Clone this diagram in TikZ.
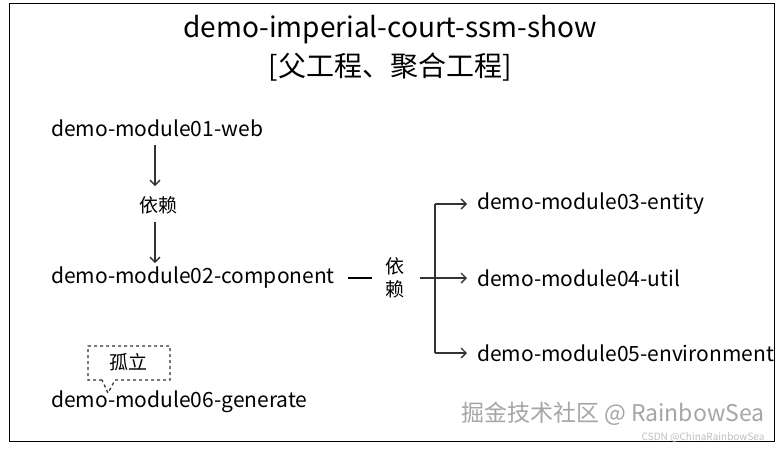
\documentclass[tikz,border=0pt]{standalone}
\usepackage{fontspec}
\setmainfont{Noto Sans CJK SC}
\usetikzlibrary{arrows.meta}
\begin{document}
\begin{tikzpicture}[x=1pt,y=-1pt,
  t/.style={font=\fontsize{21}{23}\selectfont, inner sep=1pt},
  ar/.style={-{Straight Barb[length=5pt,width=10pt]}, line width=1.3pt, black!80}]
\useasboundingbox (0,0) rectangle (783,448);
\fill[white] (0,0) rectangle (783,448);
\draw[line width=1pt] (9,3) rectangle (774,441);
\node[font=\fontsize{28}{30}\selectfont] (t1) at (390,30) {demo-imperial-court-ssm-show};
\node[font=\fontsize{28}{30}\selectfont] (t2) at (390,67) {[父工程、聚合工程]};
\node[t, anchor=west] (web) at (50,128) {demo-module01-web};
\node[t, font=\fontsize{19}{21}\selectfont] (dep1) at (158,205) {依赖};
\node[t, anchor=west] (comp) at (50,278) {demo-module02-component};
\node[t, align=center, font=\fontsize{19}{23}\selectfont] (dep2) at (395,278) {依\\赖};
\node[t, anchor=west] (ent) at (476,204) {demo-module03-entity};
\node[t, anchor=west] (util) at (476,278) {demo-module04-util};
\node[t, anchor=west] (env) at (476,353) {demo-module05-environment};
\node[t, anchor=west] (gen) at (50,402) {demo-module06-generate};
\node[t, font=\fontsize{19}{21}\selectfont] (iso) at (128,362) {孤立};
\draw[ar] (155,145) -- (155,186);
\draw[ar] (155,222) -- (155,263);
\draw[line width=1.3pt] (348,278) -- (372,278);
\draw[ar, shorten >=9pt] (420,278) -- (util.west);
\draw[line width=1.3pt, black!80] (435,204) -- (435,353);
\draw[ar, shorten >=9pt] (435,204) -- (ent.west);
\draw[ar, shorten >=9pt] (435,353) -- (env.west);
\draw[dashed, line width=1.3pt, black!80] (102,380) -- (88,380) -- (88,346) -- (170,346) -- (170,380) -- (115,380) -- (108,393) -- (102,380);
\node[anchor=east, gray!70, font=\fontsize{23}{25}\selectfont] (wm) at (768,414) {掘金技术社区 @ RainbowSea};
\node[anchor=east, gray!50, font=\fontsize{10}{11}\selectfont] (wm2) at (768,437) {CSDN @ChinaRainbowSea};
\end{tikzpicture}
\end{document}
